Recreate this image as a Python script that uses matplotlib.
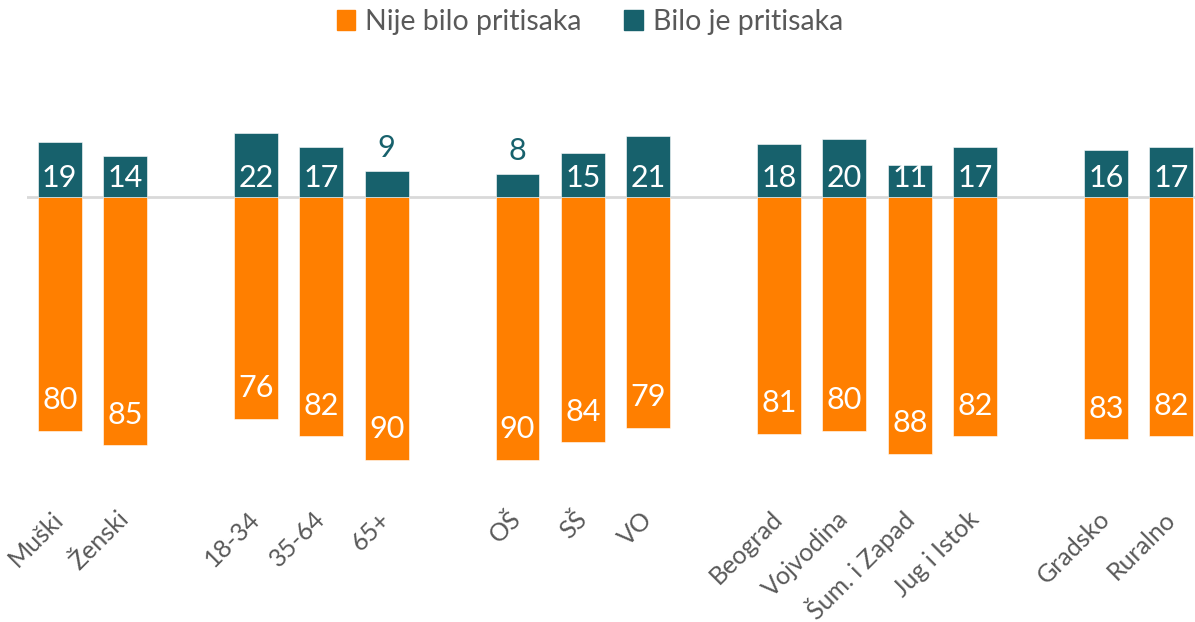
import numpy as np
import matplotlib
matplotlib.use("Agg")
from matplotlib import pyplot as plt
from matplotlib.patches import Patch

plt.rcParams['font.family'] = ['Lato', 'DejaVu Sans']

categories = ['Muški', 'Ženski', '18-34', '35-64', '65+', 'OŠ', 'SŠ', 'VO',
              'Beograd', 'Vojvodina', 'Šum. i Zapad', 'Jug i Istok',
              'Gradsko', 'Ruralno']
group_sizes = [2, 3, 3, 4, 2]
nije_bilo = [80, 85, 76, 82, 90, 90, 84, 79, 81, 80, 88, 82, 83, 82]
bilo_je = [19, 14, 22, 17, 9, 8, 15, 21, 18, 20, 11, 17, 16, 17]

orange = '#ff7f00'
teal = '#17616c'
grey = '#595959'

# positions: one empty slot between groups
pos = []
x = 0
for g in group_sizes:
    for i in range(g):
        pos.append(x)
        x += 1
    x += 1
pos = np.array(pos)

W, H = 1195, 622
fig = plt.figure(figsize=(W / 100, H / 100), dpi=100)
ax = fig.add_axes([27 / W, 1 - 500 / H, (1204 - 27) / W, 400 / H])

ax.bar(pos, [-v for v in nije_bilo], width=0.67, color=orange, edgecolor='white', linewidth=0.4, zorder=2)
ax.bar(pos, bilo_je, width=0.67, color=teal, edgecolor='white', linewidth=0.4, zorder=2)
ax.axhline(0, color='#d9d9d9', lw=2, zorder=1)

for p, v in zip(pos, nije_bilo):
    ax.text(p, -(v - 10.5), str(v), ha='center', va='center', color='white', fontsize=22)
for p, v in zip(pos, bilo_je):
    if v >= 10:
        ax.text(p, 6.5, str(v), ha='center', va='center', color='white', fontsize=22)
    else:
        ax.text(p, v + 7.8, str(v), ha='center', va='center', color=teal, fontsize=22)

ax.set_xlim(-0.5, 17.5)
ax.set_ylim(-(500 - 197) / 2.92, (197 - 100) / 2.92)
ax.set_xticks(pos)
ax.set_xticklabels(categories, rotation=45, ha='right', va='center',
                   rotation_mode='anchor', fontsize=18, color=grey)
ax.tick_params(axis='x', length=0, pad=11)
ax.set_yticks([])
for s in ax.spines.values():
    s.set_visible(False)

handles = [Patch(color=orange, label='Nije bilo pritisaka'),
           Patch(color=teal, label='Bilo je pritisaka')]
leg = ax.legend(handles=handles, loc='center', bbox_to_anchor=((590 - 27) / 1177, 1 + 78 / 400),
                ncol=2, frameon=False, fontsize=20.5, handlelength=0.65, handleheight=0.65,
                handletextpad=0.35, columnspacing=1.5, labelcolor=grey)

fig.savefig('out.png', dpi=100)
